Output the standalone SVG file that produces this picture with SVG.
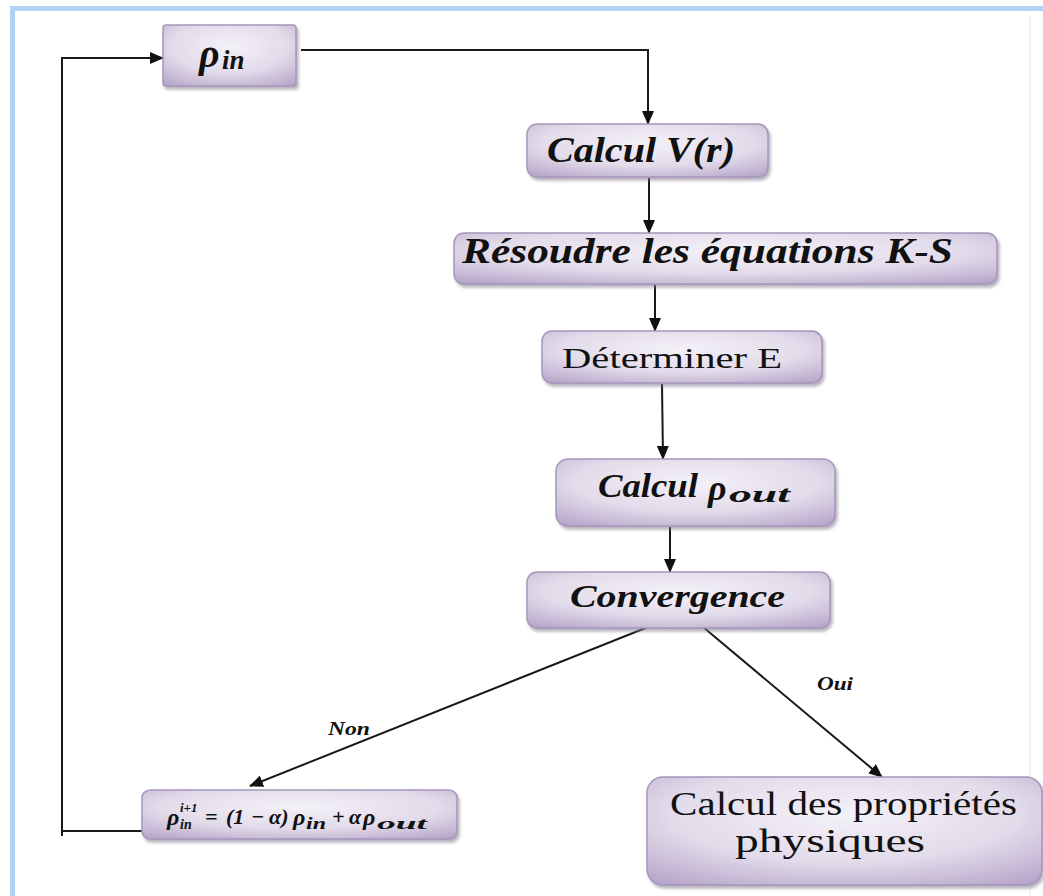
<svg xmlns="http://www.w3.org/2000/svg" width="1043" height="896" viewBox="0 0 1043 896">
<defs>
<radialGradient id="g" cx="0.5" cy="0.35" r="0.8">
<stop offset="0" stop-color="#f4f1f8"/>
<stop offset="0.55" stop-color="#e2dbea"/>
<stop offset="1" stop-color="#b4a3c8"/>
</radialGradient>
<filter id="sh" x="-10%" y="-10%" width="130%" height="140%">
<feDropShadow dx="2" dy="3" stdDeviation="1.5" flood-color="#7d7788" flood-opacity="0.55"/>
</filter>
<marker id="ah" markerUnits="userSpaceOnUse" markerWidth="14" markerHeight="12" refX="13" refY="6" orient="auto">
<path d="M0,0 L14,6 L0,12 z" fill="#111"/>
</marker>
</defs>
<style>
.box{fill:url(#g);stroke:#a596bb;stroke-width:1.5;filter:url(#sh)}
.bi{font-family:'Liberation Serif','Times New Roman',Times,serif;font-weight:700;font-style:italic;fill:#111}
.rg{font-family:'Liberation Serif','Times New Roman',Times,serif;font-weight:400;fill:#111}
.con{fill:none;stroke:#1a1a1a;stroke-width:2}
</style>
<rect x="0" y="0" width="1043" height="896" fill="#ffffff"/>
<rect x="12.5" y="8.5" width="1040" height="900" fill="none" stroke="#b3d3f5" stroke-width="5"/>
<line x1="1030" y1="15" x2="1030" y2="896" stroke="#f3f3f3" stroke-width="2"/>

<g id="connectors">
<path class="con" d="M301,50 H648 V124" marker-end="url(#ah)"/>
<path class="con" d="M649,178 V233" marker-end="url(#ah)"/>
<path class="con" d="M655,285 V331" marker-end="url(#ah)"/>
<path class="con" d="M662,384 L663,459" marker-end="url(#ah)"/>
<path class="con" d="M670,527 V572" marker-end="url(#ah)"/>
<path class="con" d="M648,627 L250,786" marker-end="url(#ah)"/>
<path class="con" d="M703,627 L882,777" marker-end="url(#ah)"/>
<path class="con" d="M142,831 H62"/>
<path class="con" d="M62,836 V58 H163" marker-end="url(#ah)"/>
<text class="bi" x="328" y="735" font-size="18" textLength="42" lengthAdjust="spacingAndGlyphs">Non</text>
<text class="bi" x="817" y="690" font-size="18" textLength="36" lengthAdjust="spacingAndGlyphs">Oui</text>
</g>

<g id="node-rho-in">
<rect class="box" x="163" y="25" width="133" height="61" rx="3"/>
<text class="bi" x="199" y="67" font-size="40">ρ</text>
<text class="bi" x="222" y="69" font-size="27">in</text>
</g>

<g id="node-calcul-v">
<rect class="box" x="527" y="124" width="241" height="53" rx="10"/>
<text class="bi" x="547" y="162" font-size="35" textLength="188" lengthAdjust="spacingAndGlyphs">Calcul V(r)</text>
</g>

<g id="node-resoudre">
<rect class="box" x="454" y="233" width="543" height="51" rx="10"/>
<text class="bi" x="462" y="263" font-size="35" textLength="491" lengthAdjust="spacingAndGlyphs">Résoudre les équations K-S</text>
</g>

<g id="node-determiner">
<rect class="box" x="542" y="331" width="280" height="52" rx="10"/>
<text class="rg" x="562" y="368" font-size="30" textLength="220" lengthAdjust="spacingAndGlyphs">Déterminer E</text>
</g>

<g id="node-calcul-rho-out">
<rect class="box" x="556" y="459" width="279" height="67" rx="12"/>
<text class="bi" x="598" y="497" font-size="33" textLength="100" lengthAdjust="spacingAndGlyphs">Calcul</text>
<text class="bi" x="708" y="500" font-size="36">ρ</text>
<text class="bi" x="729" y="502" font-size="24" textLength="61" lengthAdjust="spacingAndGlyphs">out</text>
</g>

<g id="node-convergence">
<rect class="box" x="527" y="572" width="303" height="56" rx="10"/>
<text class="bi" x="570" y="607" font-size="32" textLength="215" lengthAdjust="spacingAndGlyphs">Convergence</text>
</g>

<g id="node-update">
<rect class="box" x="142" y="790" width="315" height="49" rx="8"/>
<text class="bi" x="167" y="825" font-size="24">ρ</text>
<text class="bi" x="180" y="812" font-size="13">i+1</text>
<text class="bi" x="180" y="829" font-size="14">in</text>
<text class="bi" x="205" y="824" font-size="22" font-style="normal">=</text>
<text class="bi" x="226" y="824" font-size="22" font-style="normal">(1</text>
<text class="bi" x="251" y="824" font-size="22" font-style="normal">−</text>
<text class="bi" x="269" y="824" font-size="22">α)</text>
<text class="bi" x="293" y="825" font-size="24">ρ</text>
<text class="bi" x="306" y="829" font-size="16" textLength="20" lengthAdjust="spacingAndGlyphs">in</text>
<text class="bi" x="332" y="824" font-size="22" font-style="normal">+</text>
<text class="bi" x="349" y="824" font-size="22">α</text>
<text class="bi" x="363" y="825" font-size="24">ρ</text>
<text class="bi" x="377" y="829" font-size="16" textLength="50" lengthAdjust="spacingAndGlyphs">out</text>
</g>

<g id="node-proprietes">
<rect class="box" x="647" y="777" width="395" height="108" rx="16"/>
<text class="rg" x="670" y="815" font-size="34" textLength="347" lengthAdjust="spacingAndGlyphs">Calcul des propriétés</text>
<text class="rg" x="735" y="852" font-size="34" textLength="190" lengthAdjust="spacingAndGlyphs">physiques</text>
</g>
</svg>
